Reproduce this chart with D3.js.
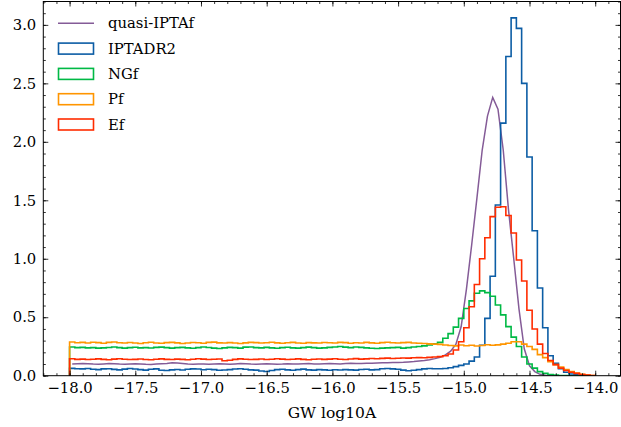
<!DOCTYPE html>
<html lang="en">
<head>
<meta charset="UTF-8">
<title>GW log10A</title>
<script src="https://d3js.org/d3.v7.min.js"></script>
<style>
  body { margin: 0; background: #fff; }
  svg text { font-family: "DejaVu Serif", serif; fill: #000; }
</style>
</head>
<body>
<div id="chart"></div>
<script>
// histogram bins: 100 bins of 0.04 from -18 to -14
const binStart = -18;
const binWidth = 0.04;

const quasiIPTAf = [
  0.100, 0.102, 0.105, 0.103, 0.100, 0.098, 0.101, 0.104, 0.102, 0.099,
  0.097, 0.100, 0.103, 0.101, 0.098, 0.096, 0.099, 0.102, 0.105, 0.110,
  0.108, 0.104, 0.100, 0.098, 0.101, 0.099, 0.097, 0.100, 0.102, 0.100,
  0.098, 0.101, 0.104, 0.102, 0.099, 0.097, 0.100, 0.103, 0.101, 0.098,
  0.100, 0.103, 0.101, 0.099, 0.102, 0.104, 0.101, 0.099, 0.102, 0.104,
  0.103, 0.101, 0.104, 0.106, 0.104, 0.105, 0.107, 0.106, 0.108, 0.110,
  0.110, 0.112, 0.113, 0.115, 0.118, 0.121, 0.125, 0.130, 0.137, 0.146,
  0.158, 0.178, 0.21, 0.27, 0.42, 0.74, 1.12, 1.52, 1.93, 2.22,
  2.38, 2.28, 1.93, 1.42, 1.00, 0.57, 0.23, 0.085, 0.035, 0.012,
  0.004, 0.001, 0, 0, 0, 0, 0, 0, 0, 0
];

const iptaDR2 = [
  0.063, 0.060, 0.058, 0.062, 0.055, 0.052, 0.058, 0.060, 0.054, 0.050,
  0.056, 0.061, 0.057, 0.052, 0.048, 0.055, 0.058, 0.046, 0.044, 0.050,
  0.053, 0.049, 0.055, 0.058, 0.057, 0.051, 0.055, 0.052, 0.047, 0.049,
  0.052, 0.057, 0.060, 0.055, 0.050, 0.048, 0.040, 0.036, 0.045, 0.052,
  0.055, 0.050, 0.047, 0.052, 0.056, 0.050, 0.048, 0.052, 0.050, 0.047,
  0.051, 0.049, 0.052, 0.050, 0.048, 0.053, 0.055, 0.050, 0.052, 0.060,
  0.062, 0.058, 0.055, 0.048, 0.042, 0.047, 0.052, 0.058, 0.062, 0.060,
  0.060, 0.062, 0.068, 0.078, 0.088, 0.100, 0.125, 0.160, 0.260, 0.490,
  0.850, 1.46, 2.16, 2.73, 3.06, 2.97, 2.50, 1.87, 1.24, 0.75,
  0.41, 0.17, 0.105, 0.06, 0.03, 0.015, 0.008, 0.003, 0.001, 0
];

const ngf = [
  0.245, 0.240, 0.242, 0.238, 0.240, 0.236, 0.238, 0.241, 0.245, 0.240,
  0.236, 0.240, 0.243, 0.238, 0.240, 0.237, 0.242, 0.244, 0.240, 0.236,
  0.240, 0.242, 0.238, 0.235, 0.240, 0.245, 0.241, 0.236, 0.232, 0.238,
  0.242, 0.240, 0.236, 0.244, 0.246, 0.240, 0.238, 0.242, 0.238, 0.235,
  0.240, 0.243, 0.238, 0.236, 0.240, 0.244, 0.240, 0.236, 0.238, 0.242,
  0.245, 0.250, 0.244, 0.240, 0.245, 0.242, 0.238, 0.235, 0.232, 0.236,
  0.238, 0.240, 0.242, 0.236, 0.240, 0.245, 0.250, 0.255, 0.262, 0.272,
  0.285, 0.320, 0.360, 0.415, 0.49, 0.575, 0.64, 0.705, 0.725, 0.71,
  0.68, 0.605, 0.52, 0.42, 0.33, 0.25, 0.16, 0.10, 0.065, 0.035,
  0.02, 0.01, 0.005, 0.002, 0.001, 0, 0, 0, 0, 0
];

const pf = [
  0.288, 0.282, 0.285, 0.280, 0.286, 0.283, 0.278, 0.285, 0.288, 0.282,
  0.280, 0.284, 0.279, 0.276, 0.282, 0.286, 0.280, 0.277, 0.283, 0.285,
  0.281, 0.276, 0.279, 0.284, 0.282, 0.278, 0.285, 0.287, 0.281, 0.279,
  0.283, 0.280, 0.276, 0.281, 0.285, 0.283, 0.279, 0.282, 0.286, 0.281,
  0.278, 0.282, 0.285, 0.280, 0.277, 0.283, 0.281, 0.279, 0.284, 0.282,
  0.280, 0.285, 0.283, 0.278, 0.282, 0.279, 0.285, 0.281, 0.277, 0.283,
  0.286, 0.282, 0.279, 0.283, 0.285, 0.280, 0.278, 0.275, 0.272, 0.270,
  0.268, 0.262, 0.258, 0.255, 0.262, 0.256, 0.260, 0.254, 0.258, 0.265,
  0.260, 0.264, 0.270, 0.277, 0.290, 0.290, 0.270, 0.250, 0.225, 0.180,
  0.155, 0.120, 0.095, 0.075, 0.052, 0.036, 0.022, 0.012, 0.006, 0.002
];

const ef = [
  0.145, 0.140, 0.142, 0.138, 0.141, 0.144, 0.140, 0.137, 0.142, 0.145,
  0.141, 0.138, 0.140, 0.143, 0.139, 0.136, 0.141, 0.144, 0.140, 0.138,
  0.142, 0.140, 0.137, 0.141, 0.145, 0.142, 0.139, 0.141, 0.143, 0.128,
  0.132, 0.140, 0.144, 0.141, 0.138, 0.140, 0.143, 0.139, 0.141, 0.145,
  0.142, 0.139, 0.141, 0.144, 0.140, 0.137, 0.141, 0.143, 0.140, 0.142,
  0.145, 0.141, 0.139, 0.143, 0.146, 0.142, 0.144, 0.147, 0.145, 0.148,
  0.150, 0.147, 0.149, 0.152, 0.150, 0.153, 0.155, 0.154, 0.157, 0.160,
  0.163, 0.170, 0.185, 0.22, 0.29, 0.41, 0.59, 0.78, 1.00, 1.18,
  1.36, 1.44, 1.445, 1.37, 1.22, 0.99, 0.81, 0.56, 0.40, 0.27,
  0.19, 0.13, 0.095, 0.065, 0.045, 0.03, 0.02, 0.01, 0.005, 0.002
];

const histNames = ["IPTADR2", "NGf", "Pf", "Ef"];
const histColors = ["#0C5DA5", "#00B945", "#FF9500", "#FF2C00"];
const lineName = "quasi-IPTAf";
const lineColor = "#845B97";

const xTicks = [-18.0, -17.5, -17.0, -16.5, -16.0, -15.5, -15.0, -14.5, -14.0];
const yTicks = [0.0, 0.5, 1.0, 1.5, 2.0, 2.5, 3.0];
const xLabel = "GW log10A";

const W = 621, H = 427;
const mLeft = 43.3, mRight = 620.5, mTop = 1.5, mBottom = 375.7;
const fontSize = 14.8;

const svg = d3.select("#chart").append("svg")
    .attr("width", W)
    .attr("height", H);

const x = d3.scaleLinear().domain([-18.2, -13.8]).range([mLeft, 621.5]);
const y = d3.scaleLinear().domain([0, 3.2]).range([mBottom, mTop]);

svg.append("defs").append("clipPath").attr("id", "plotclip")
    .append("rect")
    .attr("x", mLeft).attr("y", mTop)
    .attr("width", mRight - mLeft).attr("height", mBottom - mTop);

const plot = svg.append("g").attr("clip-path", "url(#plotclip)");

// purple line at bin centres
const centres = quasiIPTAf.map((v, i) => binStart + binWidth * (i + 0.5));
plot.append("path")
    .datum(quasiIPTAf.map((v, i) => [centres[i], v]))
    .attr("fill", "none")
    .attr("stroke", lineColor)
    .attr("stroke-width", 1.5)
    .attr("d", d3.line().x(d => x(d[0])).y(d => y(d[1])));

// step histograms
function stepPoints(vals) {
    const pts = [[binStart, 0]];
    vals.forEach((v, i) => {
        pts.push([binStart + binWidth * i, v]);
        pts.push([binStart + binWidth * (i + 1), v]);
    });
    pts.push([binStart + binWidth * vals.length, 0]);
    return pts;
}

[iptaDR2, ngf, pf, ef].forEach((vals, k) => {
    plot.append("path")
        .datum(stepPoints(vals))
        .attr("fill", "none")
        .attr("stroke", histColors[k])
        .attr("stroke-width", 1.6)
        .attr("stroke-linejoin", "miter")
        .attr("d", d3.line().x(d => x(d[0])).y(d => y(d[1])));
});

// frame
svg.append("rect")
    .attr("x", mLeft).attr("y", mTop)
    .attr("width", mRight - mLeft).attr("height", mBottom - mTop)
    .attr("fill", "none")
    .attr("stroke", "#000")
    .attr("stroke-width", 1);

// ticks, inward on all four sides
const xMinor = d3.range(-18.2, -13.79, 0.1).map(v => +v.toFixed(1));
const yMinor = d3.range(0, 3.21, 0.1).map(v => +v.toFixed(1));
const fmt = d3.format(".1f");

function tickAxis(axis, scale, vals, size, labels, transform) {
    const g = svg.append("g")
        .attr("transform", transform)
        .call(axis(scale).tickValues(vals).tickSize(-size).tickPadding(7)
            .tickFormat(labels ? fmt : ""));
    g.select(".domain").remove();
    g.selectAll("line").attr("stroke", "#000").attr("stroke-width", 0.8);
    g.selectAll("text").attr("font-size", fontSize);
    return g;
}

tickAxis(d3.axisBottom, x, xMinor, 2.5, false, `translate(0,${mBottom})`);
tickAxis(d3.axisBottom, x, xTicks, 5, true, `translate(0,${mBottom})`);
tickAxis(d3.axisTop, x, xMinor, 2.5, false, `translate(0,${mTop})`);
tickAxis(d3.axisTop, x, xTicks, 5, false, `translate(0,${mTop})`);
tickAxis(d3.axisLeft, y, yMinor, 2.5, false, `translate(${mLeft},0)`);
tickAxis(d3.axisLeft, y, yTicks, 5, true, `translate(${mLeft},0)`);
tickAxis(d3.axisRight, y, yMinor, 2.5, false, `translate(${mRight},0)`);
tickAxis(d3.axisRight, y, yTicks, 5, false, `translate(${mRight},0)`);

svg.append("text")
    .attr("x", (mLeft + mRight) / 2)
    .attr("y", 418)
    .attr("text-anchor", "middle")
    .attr("font-size", 15.5)
    .text(xLabel);

// legend
const legend = svg.append("g");
const rowH = 25.3, legTop = 23.3;
legend.append("line")
    .attr("x1", 58).attr("x2", 94)
    .attr("y1", legTop).attr("y2", legTop)
    .attr("stroke", lineColor).attr("stroke-width", 1.5);
legend.append("text")
    .attr("x", 108).attr("y", legTop).attr("dy", "0.35em")
    .attr("font-size", fontSize)
    .text(lineName);
histNames.forEach((name, k) => {
    const cy = legTop + rowH * (k + 1);
    legend.append("rect")
        .attr("x", 58.5).attr("y", cy - 5.5)
        .attr("width", 35).attr("height", 11)
        .attr("fill", "none")
        .attr("stroke", histColors[k])
        .attr("stroke-width", 1.6);
    legend.append("text")
        .attr("x", 108).attr("y", cy).attr("dy", "0.35em")
        .attr("font-size", fontSize)
        .text(name);
});
</script>
</body>
</html>
